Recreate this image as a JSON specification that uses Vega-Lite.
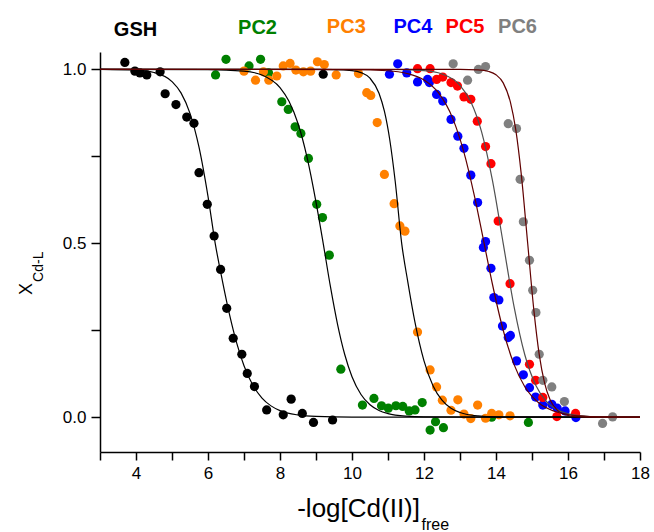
{
  "$schema": "https://vega.github.io/schema/vega-lite/v6.json",
  "width": 540,
  "height": 400,
  "autosize": "none",
  "padding": {"left": 100, "top": 52, "right": 14, "bottom": 80},
  "background": "white",
  "config": {
    "view": {"stroke": null},
    "font": "Liberation Sans",
    "axis": {
      "grid": false,
      "domainColor": "black",
      "domainWidth": 1.5,
      "tickColor": "black",
      "tickWidth": 1.5,
      "labelFont": "Liberation Sans",
      "labelFontSize": 17,
      "labelColor": "black",
      "title": null
    }
  },
  "datasets": {
    "points": [
      {"series": "GSH", "x": 3.69, "y": 1.02}, {"series": "GSH", "x": 3.97, "y": 0.995}, {"series": "GSH", "x": 4.11, "y": 0.99}, {"series": "GSH", "x": 4.30, "y": 0.984}, {"series": "GSH", "x": 4.67, "y": 0.993}, {"series": "GSH", "x": 4.81, "y": 0.93}, {"series": "GSH", "x": 5.11, "y": 0.899}, {"series": "GSH", "x": 5.41, "y": 0.863}, {"series": "GSH", "x": 5.61, "y": 0.845}, {"series": "GSH", "x": 5.75, "y": 0.703}, {"series": "GSH", "x": 5.98, "y": 0.612}, {"series": "GSH", "x": 6.17, "y": 0.521}, {"series": "GSH", "x": 6.35, "y": 0.425}, {"series": "GSH", "x": 6.52, "y": 0.313}, {"series": "GSH", "x": 6.70, "y": 0.227}, {"series": "GSH", "x": 6.94, "y": 0.181}, {"series": "GSH", "x": 7.09, "y": 0.126}, {"series": "GSH", "x": 7.29, "y": 0.088}, {"series": "GSH", "x": 7.63, "y": 0.021}, {"series": "GSH", "x": 8.09, "y": 0.007}, {"series": "GSH", "x": 8.31, "y": 0.052}, {"series": "GSH", "x": 8.62, "y": 0.011}, {"series": "GSH", "x": 8.93, "y": -0.015}, {"series": "GSH", "x": 9.46, "y": -0.008}, {"series": "GSH", "x": 9.2, "y": 0.986},
      {"series": "PC2", "x": 6.21, "y": 0.984}, {"series": "PC2", "x": 6.5, "y": 1.029}, {"series": "PC2", "x": 7.14, "y": 1.01}, {"series": "PC2", "x": 7.46, "y": 1.029}, {"series": "PC2", "x": 7.68, "y": 0.99}, {"series": "PC2", "x": 8.05, "y": 0.907}, {"series": "PC2", "x": 8.23, "y": 0.885}, {"series": "PC2", "x": 8.42, "y": 0.835}, {"series": "PC2", "x": 8.58, "y": 0.816}, {"series": "PC2", "x": 8.79, "y": 0.744}, {"series": "PC2", "x": 9.02, "y": 0.612}, {"series": "PC2", "x": 9.18, "y": 0.574}, {"series": "PC2", "x": 9.37, "y": 0.466}, {"series": "PC2", "x": 9.69, "y": 0.138}, {"series": "PC2", "x": 10.29, "y": 0.035}, {"series": "PC2", "x": 10.61, "y": 0.054}, {"series": "PC2", "x": 10.82, "y": 0.033}, {"series": "PC2", "x": 11.01, "y": 0.026}, {"series": "PC2", "x": 11.22, "y": 0.033}, {"series": "PC2", "x": 11.41, "y": 0.031}, {"series": "PC2", "x": 11.59, "y": 0.018}, {"series": "PC2", "x": 11.75, "y": 0.021}, {"series": "PC2", "x": 11.95, "y": 0.042}, {"series": "PC2", "x": 12.17, "y": -0.037}, {"series": "PC2", "x": 12.32, "y": -0.013}, {"series": "PC2", "x": 12.54, "y": -0.030}, {"series": "PC2", "x": 13.88, "y": 0.0}, {"series": "PC2", "x": 14.9, "y": -0.015},
      {"series": "PC3", "x": 7.0, "y": 0.995}, {"series": "PC3", "x": 7.32, "y": 0.969}, {"series": "PC3", "x": 7.54, "y": 0.993}, {"series": "PC3", "x": 7.69, "y": 0.969}, {"series": "PC3", "x": 7.91, "y": 0.981}, {"series": "PC3", "x": 8.09, "y": 1.01}, {"series": "PC3", "x": 8.28, "y": 1.017}, {"series": "PC3", "x": 8.44, "y": 0.998}, {"series": "PC3", "x": 8.65, "y": 0.993}, {"series": "PC3", "x": 8.85, "y": 0.995}, {"series": "PC3", "x": 9.04, "y": 1.022}, {"series": "PC3", "x": 9.23, "y": 1.014}, {"series": "PC3", "x": 9.56, "y": 0.984}, {"series": "PC3", "x": 10.18, "y": 0.988}, {"series": "PC3", "x": 10.41, "y": 0.933}, {"series": "PC3", "x": 10.52, "y": 0.925}, {"series": "PC3", "x": 10.70, "y": 0.847}, {"series": "PC3", "x": 10.90, "y": 0.698}, {"series": "PC3", "x": 11.17, "y": 0.614}, {"series": "PC3", "x": 11.33, "y": 0.550}, {"series": "PC3", "x": 11.47, "y": 0.535}, {"series": "PC3", "x": 11.82, "y": 0.245}, {"series": "PC3", "x": 12.17, "y": 0.136}, {"series": "PC3", "x": 12.35, "y": 0.087}, {"series": "PC3", "x": 12.51, "y": 0.049}, {"series": "PC3", "x": 12.75, "y": 0.020}, {"series": "PC3", "x": 12.94, "y": 0.050}, {"series": "PC3", "x": 13.11, "y": 0.009}, {"series": "PC3", "x": 13.30, "y": -0.004}, {"series": "PC3", "x": 13.49, "y": 0.035}, {"series": "PC3", "x": 13.71, "y": -0.003}, {"series": "PC3", "x": 13.88, "y": 0.011}, {"series": "PC3", "x": 14.08, "y": 0.007}, {"series": "PC3", "x": 14.39, "y": 0.004},
      {"series": "PC4", "x": 11.04, "y": 0.986}, {"series": "PC4", "x": 11.27, "y": 1.016}, {"series": "PC4", "x": 11.52, "y": 0.990}, {"series": "PC4", "x": 11.82, "y": 0.964}, {"series": "PC4", "x": 12.10, "y": 0.971}, {"series": "PC4", "x": 12.15, "y": 0.962}, {"series": "PC4", "x": 12.35, "y": 0.928}, {"series": "PC4", "x": 12.52, "y": 0.909}, {"series": "PC4", "x": 12.75, "y": 0.856}, {"series": "PC4", "x": 12.94, "y": 0.808}, {"series": "PC4", "x": 13.11, "y": 0.773}, {"series": "PC4", "x": 13.30, "y": 0.696}, {"series": "PC4", "x": 13.49, "y": 0.617}, {"series": "PC4", "x": 13.71, "y": 0.505}, {"series": "PC4", "x": 13.65, "y": 0.488}, {"series": "PC4", "x": 13.86, "y": 0.428}, {"series": "PC4", "x": 13.94, "y": 0.344}, {"series": "PC4", "x": 14.08, "y": 0.337}, {"series": "PC4", "x": 14.18, "y": 0.262}, {"series": "PC4", "x": 14.34, "y": 0.229}, {"series": "PC4", "x": 14.40, "y": 0.235}, {"series": "PC4", "x": 14.57, "y": 0.162}, {"series": "PC4", "x": 14.76, "y": 0.122}, {"series": "PC4", "x": 14.93, "y": 0.085}, {"series": "PC4", "x": 15.10, "y": 0.058}, {"series": "PC4", "x": 15.30, "y": 0.035}, {"series": "PC4", "x": 15.55, "y": 0.037}, {"series": "PC4", "x": 15.70, "y": 0.026}, {"series": "PC4", "x": 15.92, "y": 0.018}, {"series": "PC4", "x": 16.22, "y": -0.001},
      {"series": "PC5", "x": 11.82, "y": 1.002}, {"series": "PC5", "x": 12.17, "y": 1.002}, {"series": "PC5", "x": 12.35, "y": 0.971}, {"series": "PC5", "x": 12.52, "y": 0.978}, {"series": "PC5", "x": 12.75, "y": 0.962}, {"series": "PC5", "x": 12.93, "y": 0.952}, {"series": "PC5", "x": 13.11, "y": 0.921}, {"series": "PC5", "x": 13.30, "y": 0.914}, {"series": "PC5", "x": 13.48, "y": 0.851}, {"series": "PC5", "x": 13.71, "y": 0.778}, {"series": "PC5", "x": 13.86, "y": 0.729}, {"series": "PC5", "x": 14.06, "y": 0.564}, {"series": "PC5", "x": 14.39, "y": 0.384}, {"series": "PC5", "x": 14.93, "y": 0.152}, {"series": "PC5", "x": 15.10, "y": 0.106}, {"series": "PC5", "x": 15.30, "y": 0.057}, {"series": "PC5", "x": 15.69, "y": 0.002}, {"series": "PC5", "x": 16.21, "y": 0.011},
      {"series": "PC6", "x": 12.81, "y": 1.016}, {"series": "PC6", "x": 13.21, "y": 0.969}, {"series": "PC6", "x": 13.51, "y": 1.0}, {"series": "PC6", "x": 13.71, "y": 1.008}, {"series": "PC6", "x": 14.34, "y": 0.844}, {"series": "PC6", "x": 14.57, "y": 0.830}, {"series": "PC6", "x": 14.67, "y": 0.684}, {"series": "PC6", "x": 14.76, "y": 0.562}, {"series": "PC6", "x": 14.93, "y": 0.451}, {"series": "PC6", "x": 15.02, "y": 0.365}, {"series": "PC6", "x": 15.11, "y": 0.301}, {"series": "PC6", "x": 15.20, "y": 0.181}, {"series": "PC6", "x": 15.30, "y": 0.106}, {"series": "PC6", "x": 15.55, "y": 0.087}, {"series": "PC6", "x": 15.90, "y": 0.045}, {"series": "PC6", "x": 16.96, "y": -0.018}, {"series": "PC6", "x": 17.24, "y": 0.001}
    ],
    "curves": [
      {"fit": "GSH", "x": 3, "y": 0.9999}, {"fit": "GSH", "x": 4, "y": 0.9977}, {"fit": "GSH", "x": 4.5, "y": 0.991}, {"fit": "GSH", "x": 5, "y": 0.965}, {"fit": "GSH", "x": 5.25, "y": 0.9325}, {"fit": "GSH", "x": 5.5, "y": 0.8737}, {"fit": "GSH", "x": 5.75, "y": 0.7762}, {"fit": "GSH", "x": 6.0, "y": 0.6348}, {"fit": "GSH", "x": 6.2, "y": 0.5}, {"fit": "GSH", "x": 6.4, "y": 0.3923}, {"fit": "GSH", "x": 6.6, "y": 0.2942}, {"fit": "GSH", "x": 6.8, "y": 0.2121}, {"fit": "GSH", "x": 7.0, "y": 0.1481}, {"fit": "GSH", "x": 7.25, "y": 0.0914}, {"fit": "GSH", "x": 7.5, "y": 0.055}, {"fit": "GSH", "x": 7.75, "y": 0.0326}, {"fit": "GSH", "x": 8.0, "y": 0.0191}, {"fit": "GSH", "x": 8.5, "y": 0.0065}, {"fit": "GSH", "x": 9, "y": 0.0022}, {"fit": "GSH", "x": 10, "y": 0.0003}, {"fit": "GSH", "x": 18, "y": 0},
      {"fit": "PC2", "x": 3, "y": 1.0}, {"fit": "PC2", "x": 6, "y": 0.9996}, {"fit": "PC2", "x": 7, "y": 0.9951}, {"fit": "PC2", "x": 7.5, "y": 0.9839}, {"fit": "PC2", "x": 8, "y": 0.9479}, {"fit": "PC2", "x": 8.25, "y": 0.9086}, {"fit": "PC2", "x": 8.5, "y": 0.8445}, {"fit": "PC2", "x": 8.75, "y": 0.7479}, {"fit": "PC2", "x": 9.0, "y": 0.6186}, {"fit": "PC2", "x": 9.2, "y": 0.5}, {"fit": "PC2", "x": 9.4, "y": 0.376}, {"fit": "PC2", "x": 9.6, "y": 0.2664}, {"fit": "PC2", "x": 9.8, "y": 0.1795}, {"fit": "PC2", "x": 10.0, "y": 0.1165}, {"fit": "PC2", "x": 10.25, "y": 0.0654}, {"fit": "PC2", "x": 10.5, "y": 0.0358}, {"fit": "PC2", "x": 10.75, "y": 0.0193}, {"fit": "PC2", "x": 11.0, "y": 0.0104}, {"fit": "PC2", "x": 11.5, "y": 0.0029}, {"fit": "PC2", "x": 12, "y": 0.0008}, {"fit": "PC2", "x": 18, "y": 0},
      {"fit": "PC3", "x": 3, "y": 1.0}, {"fit": "PC3", "x": 9, "y": 0.99995}, {"fit": "PC3", "x": 9.5, "y": 0.9996}, {"fit": "PC3", "x": 10, "y": 0.9967}, {"fit": "PC3", "x": 10.25, "y": 0.9908}, {"fit": "PC3", "x": 10.5, "y": 0.9746}, {"fit": "PC3", "x": 10.75, "y": 0.9315}, {"fit": "PC3", "x": 10.9, "y": 0.8797}, {"fit": "PC3", "x": 11.05, "y": 0.797}, {"fit": "PC3", "x": 11.2, "y": 0.6783}, {"fit": "PC3", "x": 11.38, "y": 0.5}, {"fit": "PC3", "x": 11.55, "y": 0.3893}, {"fit": "PC3", "x": 11.75, "y": 0.2728}, {"fit": "PC3", "x": 12.0, "y": 0.1622}, {"fit": "PC3", "x": 12.25, "y": 0.0908}, {"fit": "PC3", "x": 12.5, "y": 0.049}, {"fit": "PC3", "x": 12.75, "y": 0.0259}, {"fit": "PC3", "x": 13.0, "y": 0.0135}, {"fit": "PC3", "x": 13.5, "y": 0.0036}, {"fit": "PC3", "x": 14, "y": 0.001}, {"fit": "PC3", "x": 18, "y": 0},
      {"fit": "PC5", "x": 3, "y": 1.0}, {"fit": "PC5", "x": 11, "y": 0.9997}, {"fit": "PC5", "x": 12, "y": 0.9962}, {"fit": "PC5", "x": 12.5, "y": 0.9867}, {"fit": "PC5", "x": 13, "y": 0.9543}, {"fit": "PC5", "x": 13.3, "y": 0.9072}, {"fit": "PC5", "x": 13.6, "y": 0.8205}, {"fit": "PC5", "x": 13.9, "y": 0.6814}, {"fit": "PC5", "x": 14.2, "y": 0.5}, {"fit": "PC5", "x": 14.5, "y": 0.3186}, {"fit": "PC5", "x": 14.8, "y": 0.1795}, {"fit": "PC5", "x": 15.1, "y": 0.0928}, {"fit": "PC5", "x": 15.4, "y": 0.0457}, {"fit": "PC5", "x": 15.8, "y": 0.0171}, {"fit": "PC5", "x": 16.3, "y": 0.0049}, {"fit": "PC5", "x": 17, "y": 0.0008}, {"fit": "PC5", "x": 18, "y": 0},
      {"fit": "PC4", "x": 3, "y": 1.0}, {"fit": "PC4", "x": 10, "y": 0.9995}, {"fit": "PC4", "x": 11, "y": 0.9961}, {"fit": "PC4", "x": 11.5, "y": 0.989}, {"fit": "PC4", "x": 12, "y": 0.9696}, {"fit": "PC4", "x": 12.4, "y": 0.9329}, {"fit": "PC4", "x": 12.8, "y": 0.8585}, {"fit": "PC4", "x": 13.1, "y": 0.7651}, {"fit": "PC4", "x": 13.4, "y": 0.6363}, {"fit": "PC4", "x": 13.67, "y": 0.5}, {"fit": "PC4", "x": 13.9, "y": 0.383}, {"fit": "PC4", "x": 14.2, "y": 0.2501}, {"fit": "PC4", "x": 14.5, "y": 0.1519}, {"fit": "PC4", "x": 14.8, "y": 0.0877}, {"fit": "PC4", "x": 15.2, "y": 0.0403}, {"fit": "PC4", "x": 15.6, "y": 0.018}, {"fit": "PC4", "x": 16, "y": 0.0079}, {"fit": "PC4", "x": 16.5, "y": 0.0028}, {"fit": "PC4", "x": 17, "y": 0.001}, {"fit": "PC4", "x": 18, "y": 0.0001},
      {"fit": "PC6", "x": 3, "y": 1.0}, {"fit": "PC6", "x": 13, "y": 0.9999}, {"fit": "PC6", "x": 13.5, "y": 0.9985}, {"fit": "PC6", "x": 13.8, "y": 0.9939}, {"fit": "PC6", "x": 14.0, "y": 0.9846}, {"fit": "PC6", "x": 14.2, "y": 0.9612}, {"fit": "PC6", "x": 14.4, "y": 0.906}, {"fit": "PC6", "x": 14.55, "y": 0.826}, {"fit": "PC6", "x": 14.7, "y": 0.7005}, {"fit": "PC6", "x": 14.88, "y": 0.5}, {"fit": "PC6", "x": 15.05, "y": 0.3095}, {"fit": "PC6", "x": 15.2, "y": 0.1809}, {"fit": "PC6", "x": 15.35, "y": 0.0981}, {"fit": "PC6", "x": 15.5, "y": 0.0509}, {"fit": "PC6", "x": 15.7, "y": 0.0204}, {"fit": "PC6", "x": 16.0, "y": 0.005}, {"fit": "PC6", "x": 16.5, "y": 0.0005}, {"fit": "PC6", "x": 18, "y": 0}
    ],
    "labels": [
      {"series": "GSH", "x": 3.986, "y": 1.096},
      {"series": "PC2", "x": 7.375, "y": 1.101},
      {"series": "PC3", "x": 9.842, "y": 1.1055},
      {"series": "PC4", "x": 11.694, "y": 1.1055},
      {"series": "PC5", "x": 13.139, "y": 1.1055},
      {"series": "PC6", "x": 14.597, "y": 1.1055}
    ],
    "xtitle": [{"t": "-log[Cd(II)]", "x": 11.889, "y": -0.286}],
    "xsub": [{"t": "free", "x": 11.93, "y": -0.324}],
    "ytitle": [{"t": "X", "x": 0.972, "y": 0.386}],
    "ysub": [{"t": "Cd-L", "x": 1.306, "y": 0.389}]
  },
  "encoding": {
    "x": {
      "field": "x", "type": "quantitative",
      "scale": {"domain": [3, 18], "nice": false, "zero": false},
      "axis": {
        "values": [3, 4, 5, 6, 7, 8, 9, 10, 11, 12, 13, 14, 15, 16, 17, 18],
        "labelExpr": "datum.value % 2 == 0 ? datum.label : ''",
        "tickSize": 8, "labelPadding": 5, "labelFlush": false, "labelOverlap": false, "title": null
      }
    },
    "y": {
      "field": "y", "type": "quantitative",
      "scale": {"domain": [-0.1, 1.05], "nice": false, "zero": false},
      "axis": {
        "values": [0, 0.25, 0.5, 0.75, 1],
        "labelExpr": "datum.value == 0.25 || datum.value == 0.75 ? '' : format(datum.value, '.1f')",
        "tickSize": 9, "labelPadding": 5, "labelFlush": false, "labelOverlap": false, "title": null
      }
    }
  },
  "layer": [
    {
      "data": {"name": "points"},
      "mark": {"type": "circle", "size": 85, "opacity": 1},
      "encoding": {
        "color": {
          "field": "series", "type": "nominal",
          "scale": {"domain": ["GSH", "PC2", "PC3", "PC4", "PC5", "PC6"], "range": ["#000000", "#008000", "#FF8000", "#0000FF", "#FF0000", "#808080"]},
          "legend": null
        }
      }
    },
    {
      "data": {"name": "curves"},
      "mark": {"type": "line", "strokeWidth": 1.2, "interpolate": "monotone"},
      "encoding": {
        "stroke": {
          "field": "fit", "type": "nominal",
          "scale": {"domain": ["GSH", "PC2", "PC3", "PC5", "PC4", "PC6"], "range": ["#000000", "#000000", "#000000", "#505050", "#600000", "#600000"]},
          "legend": null
        }
      }
    },
    {
      "data": {"name": "labels"},
      "mark": {"type": "text", "fontSize": 20, "fontWeight": "bold", "font": "Liberation Sans", "align": "center", "baseline": "alphabetic"},
      "encoding": {
        "text": {"field": "series"},
        "color": {"field": "series", "type": "nominal", "legend": null}
      }
    },
    {
      "data": {"name": "xtitle"},
      "mark": {"type": "text", "fontSize": 26, "font": "Liberation Sans", "align": "right", "baseline": "alphabetic", "color": "black"},
      "encoding": {"text": {"field": "t"}}
    },
    {
      "data": {"name": "xsub"},
      "mark": {"type": "text", "fontSize": 16, "font": "Liberation Sans", "align": "left", "baseline": "alphabetic", "color": "black"},
      "encoding": {"text": {"field": "t"}}
    },
    {
      "data": {"name": "ytitle"},
      "mark": {"type": "text", "fontSize": 18, "angle": 270, "align": "right", "color": "black"},
      "encoding": {"text": {"field": "t"}}
    },
    {
      "data": {"name": "ysub"},
      "mark": {"type": "text", "fontSize": 14, "angle": 270, "align": "left", "color": "black"},
      "encoding": {"text": {"field": "t"}}
    }
  ]
}
